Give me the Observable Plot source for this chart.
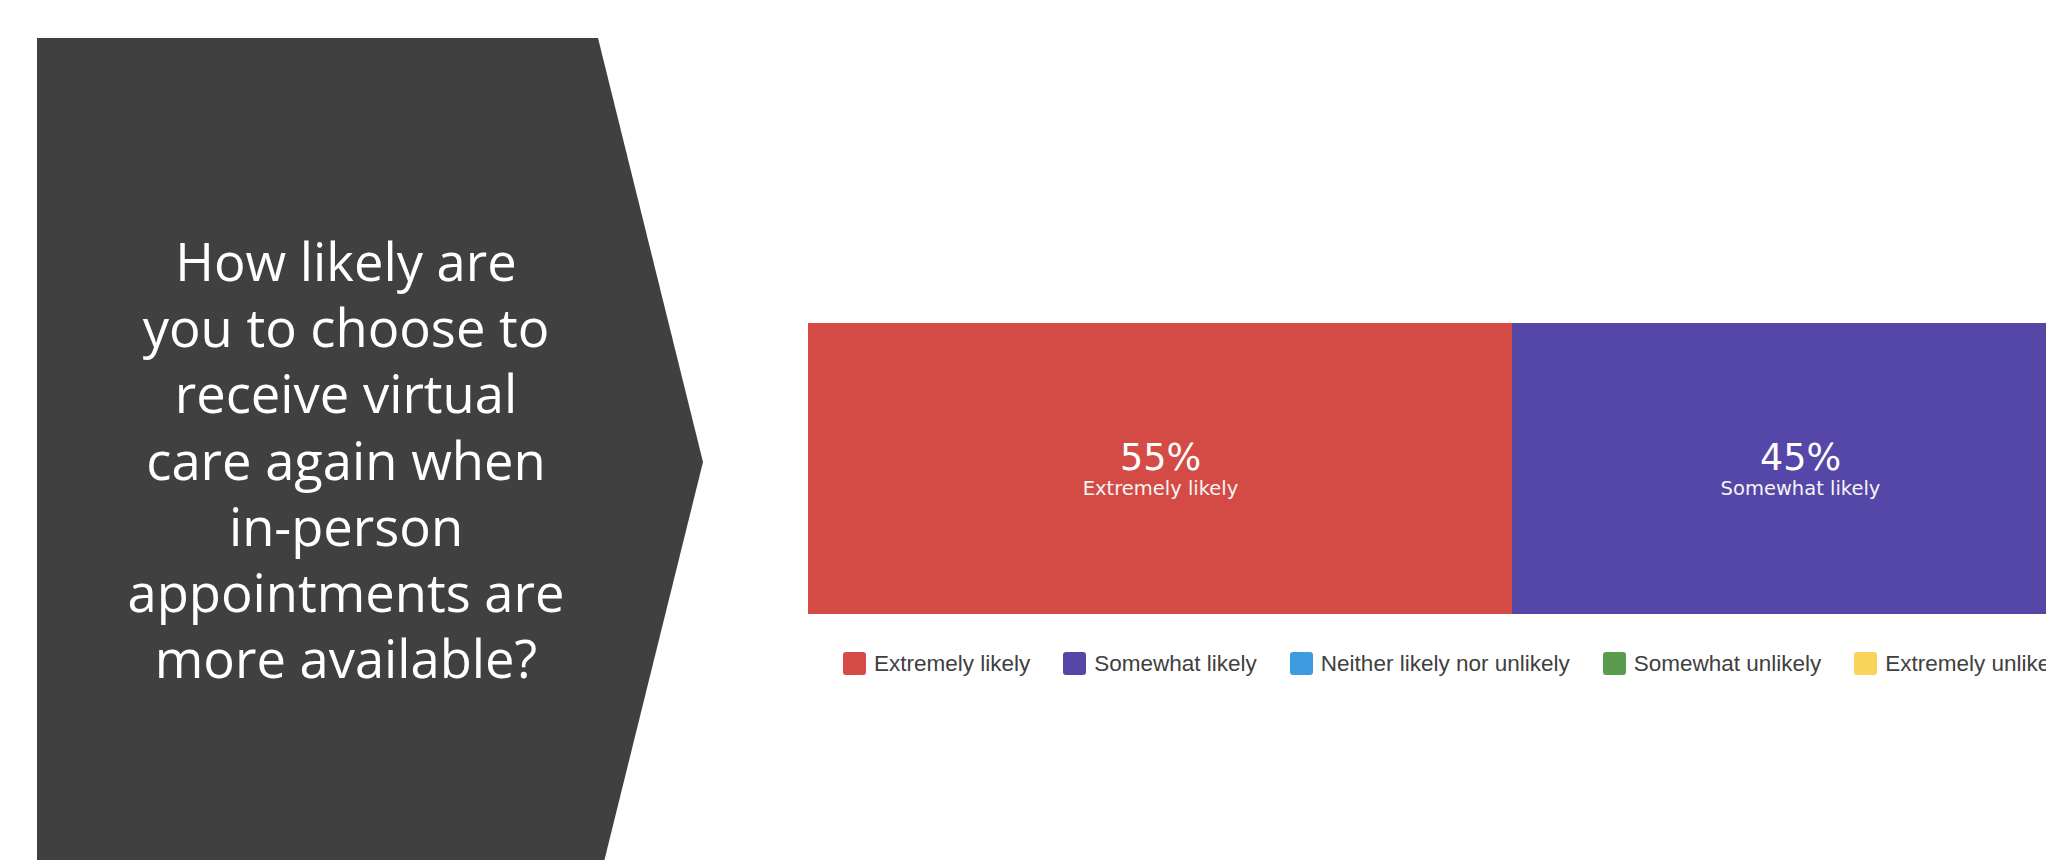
<!DOCTYPE html>
<html>
<head>
<meta charset="utf-8">
<script src="https://cdn.jsdelivr.net/npm/d3@7"></script>
<script src="https://cdn.jsdelivr.net/npm/@observablehq/plot@0.6"></script>
<style>
  html, body { margin: 0; padding: 0; background: #fff; }
  body { width: 2046px; height: 860px; overflow: hidden; position: relative; }
  #deco { position: absolute; left: 0; top: 0; }
  #chart { position: absolute; left: 0; top: 0; width: 2100px; }
  #chart svg { max-width: none; }
  #legend { position: absolute; left: 843px; top: 647px; width: 1300px; }
  #legend .lg-swatches { margin: 0; font-family: "Liberation Sans", Arial, sans-serif; font-size: 22.5px; color: #404040; }
  #legend .lg-swatches-wrap { flex-wrap: nowrap; min-height: 33px; }
  #legend .lg-swatch { margin-right: 33px; white-space: nowrap; }
  #legend .lg-swatch > svg { margin-right: 8px; }
  #legend .lg-swatch rect { rx: 3px; ry: 3px; }
</style>
</head>
<body>
<svg id="deco" width="2046" height="860"></svg>
<div id="chart"></div>
<div id="legend"></div>
<script>
// ---- data ----
const questionLines = [
  "How likely are",
  "you to choose to",
  "receive virtual",
  "care again when",
  "in-person",
  "appointments are",
  "more available?"
];
const categories = [
  "Extremely likely",
  "Somewhat likely",
  "Neither likely nor unlikely",
  "Somewhat unlikely",
  "Extremely unlikely"
];
const values = [55, 45, 0, 0, 0];
const colors = ["#d44b46", "#5547a8", "#3d9ce0", "#5b9b4e", "#fad45a"];

// ---- decorative chevron with question ----
const ns = "http://www.w3.org/2000/svg";
const deco = document.getElementById("deco");
const poly = document.createElementNS(ns, "polygon");
poly.setAttribute("points", "37,38 598,38 703,462 598,886 37,886");
poly.setAttribute("fill", "#404040");
deco.appendChild(poly);
questionLines.forEach((line, i) => {
  const t = document.createElementNS(ns, "text");
  t.setAttribute("x", 346);
  t.setAttribute("y", 281 + i * 66.2);
  t.setAttribute("text-anchor", "middle");
  t.setAttribute("fill", "#ffffff");
  t.setAttribute("font-family", "'Open Sans', sans-serif");
  t.setAttribute("font-size", "52.5");
  t.textContent = line;
  deco.appendChild(t);
});

// ---- chart ----
const rows = categories.map((c, i) => ({category: c, value: values[i]}));
const labeled = rows.filter(d => d.value > 0);

const chart = Plot.plot({
  width: 2100,
  height: 640,
  marginLeft: 808,
  marginRight: 12,
  marginTop: 323,
  marginBottom: 26,
  style: {background: "transparent", overflow: "visible"},
  x: {domain: [0, 100], axis: null},
  color: {domain: categories, range: colors},
  marks: [
    Plot.barX(rows, Plot.stackX({x: "value", fill: "category", order: null})),
    Plot.text(labeled, Plot.stackX({
      x: "value", order: null,
      text: d => d.value + "%",
      fill: "#ffffff", fontSize: 36.5, fontFamily: "DejaVu Sans",
      dy: -11
    })),
    Plot.text(labeled, Plot.stackX({
      x: "value", order: null,
      text: "category",
      fill: "#f4f4f4", fontSize: 19.5, fontFamily: "DejaVu Sans",
      dy: 20
    }))
  ]
});
document.getElementById("chart").appendChild(chart);

const legend = Plot.legend({
  color: {domain: categories, range: colors},
  legend: "swatches",
  swatchSize: 23,
  className: "lg"
});
document.getElementById("legend").appendChild(legend);
</script>
</body>
</html>
